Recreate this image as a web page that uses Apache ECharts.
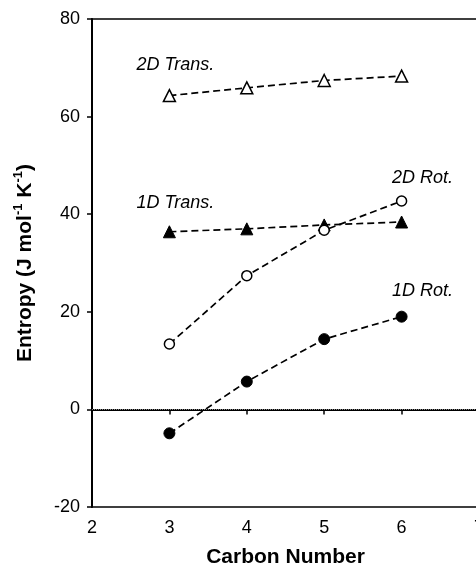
<!DOCTYPE html>
<html>
<head>
<meta charset="utf-8">
<script src="https://cdn.jsdelivr.net/npm/echarts@6/dist/echarts.min.js"></script>
<style>
html,body{margin:0;padding:0;background:#fff;}
#chart{width:476px;height:573px;}
</style>
</head>
<body>
<div id="chart"></div>
<script>
const carbonNumbers = [3, 4, 5, 6];
const trans2D = [64.3, 65.9, 67.4, 68.3];
const trans1D = [36.4, 37.0, 37.8, 38.4];
const rot2D = [13.4, 27.4, 36.7, 42.7];
const rot1D = [-4.9, 5.7, 14.4, 19.0];
const xTicks = [2, 3, 4, 5, 6, 7];
const yTicks = [-20, 0, 20, 40, 60, 80];
const seriesNames = ['2D Trans.', '1D Trans.', '2D Rot.', '1D Rot.'];

const FONT = '"Liberation Sans", Arial, sans-serif';

function build(values, labelIndex, labelText, offset) {
  return carbonNumbers.map((x, i) => {
    const item = { value: [x, values[i]] };
    if (i === labelIndex) {
      item.label = {
        show: true,
        position: 'inside',
        offset: offset,
        formatter: labelText,
        fontFamily: FONT,
        fontStyle: 'italic',
        fontSize: 18,
        color: '#000'
      };
    }
    return item;
  });
}

const lineStyle = { color: '#000', width: 1.7, type: [7, 4] };

const chart = echarts.init(document.getElementById('chart'), null, { renderer: 'canvas' });
chart.setOption({
  animation: false,
  backgroundColor: '#fff',
  grid: { left: 92, top: 19, right: -3, bottom: 66, show: true, borderColor: '#000', borderWidth: 1.5, containLabel: false, outerBoundsMode: 'none' },
  xAxis: {
    type: 'value', min: xTicks[0], max: xTicks[xTicks.length - 1], interval: 1,
    name: 'Carbon Number', nameLocation: 'middle', nameGap: 40,
    nameTextStyle: { fontFamily: FONT, fontWeight: 'bold', fontSize: 21, color: '#000' },
    axisLine: { show: true, lineStyle: { color: '#000', width: 2 } },
    axisTick: { show: true, inside: false, length: 5, lineStyle: { color: '#000', width: 1.5 } },
    axisLabel: { fontFamily: FONT, fontSize: 18, color: '#000', margin: 12, showMaxLabel: true, showMinLabel: true },
    splitLine: { show: false }
  },
  yAxis: {
    type: 'value', min: yTicks[0], max: yTicks[yTicks.length - 1], interval: 20,
    name: '{a|Entropy (J mol}{s|-1}{a| K}{s|-1}{a|)}', nameLocation: 'middle', nameGap: 56, nameRotate: 90,
    nameTextStyle: {
      rich: {
        a: { fontFamily: FONT, fontWeight: 'bold', fontSize: 21, color: '#000', lineHeight: 24, verticalAlign: 'bottom' },
        s: { fontFamily: FONT, fontWeight: 'bold', fontSize: 13, color: '#000', lineHeight: 24, verticalAlign: 'top' }
      }
    },
    axisLine: { show: true, lineStyle: { color: '#000', width: 2 } },
    axisTick: { show: true, inside: false, length: 5, lineStyle: { color: '#000', width: 1.5 } },
    axisLabel: { fontFamily: FONT, fontSize: 18, color: '#000', margin: 12 },
    splitLine: { show: false }
  },
  series: [
    {
      name: seriesNames[0], type: 'line', data: build(trans2D, 0, seriesNames[0], [6, -31]),
      symbol: 'triangle', symbolSize: 12,
      itemStyle: { color: '#fff', borderColor: '#000', borderWidth: 1.5 },
      lineStyle: lineStyle, z: 3
    },
    {
      name: seriesNames[1], type: 'line', data: build(trans1D, 0, seriesNames[1], [6, -29]),
      symbol: 'triangle', symbolSize: 12,
      itemStyle: { color: '#000', borderColor: '#000', borderWidth: 1 },
      lineStyle: lineStyle, z: 3
    },
    {
      name: seriesNames[2], type: 'line', data: build(rot2D, 3, seriesNames[2], [21, -23]),
      symbol: 'circle', symbolSize: 10,
      itemStyle: { color: '#fff', borderColor: '#000', borderWidth: 1.5 },
      lineStyle: lineStyle, z: 4
    },
    {
      name: seriesNames[3], type: 'line', data: build(rot1D, 3, seriesNames[3], [21, -26]),
      symbol: 'circle', symbolSize: 11,
      itemStyle: { color: '#000', borderColor: '#000', borderWidth: 1 },
      lineStyle: lineStyle, z: 4,
      markLine: {
        silent: true, symbol: 'none', label: { show: false },
        lineStyle: { color: '#888', width: 1, type: [1, 1] },
        data: [{ yAxis: 0 }]
      }
    }
  ]
});
</script>
</body>
</html>
